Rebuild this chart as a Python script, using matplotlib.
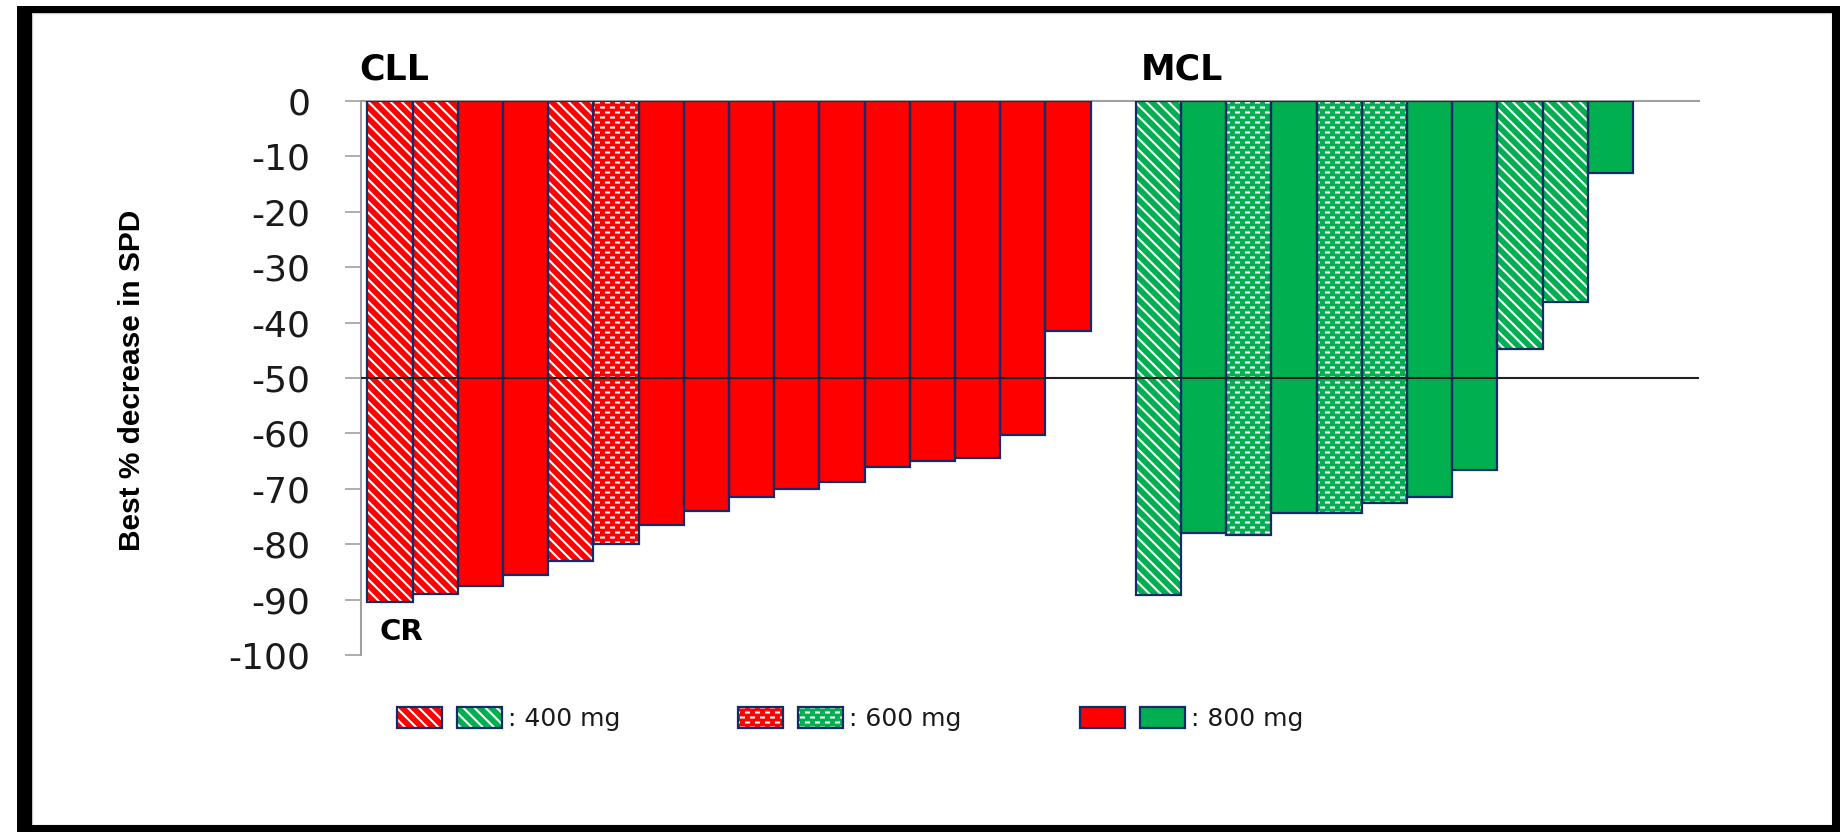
import numpy as np
import matplotlib
matplotlib.use("Agg")
import matplotlib.pyplot as plt
import matplotlib.hatch as mhatch
from matplotlib.path import Path
from matplotlib.patches import Patch, Rectangle
from matplotlib.legend_handler import HandlerTuple

# ---- data -------------------------------------------------------------
group_names = ["CLL", "MCL"]
cll_change = [-90.5, -89, -87.5, -85.5, -83, -80, -76.5, -74, -71.5, -70,
              -68.7, -66, -65, -64.5, -60.3, -41.5]
cll_dose = [400, 400, 800, 800, 400, 600, 800, 800, 800, 800,
            800, 800, 800, 800, 800, 800]
mcl_change = [-89.2, -78, -78.3, -74.4, -74.4, -72.6, -71.4, -66.6,
              -44.8, -36.3, -13]
mcl_dose = [400, 800, 600, 800, 600, 600, 800, 800, 400, 400, 800]

dose_levels = [400, 600, 800]
dose_labels = [": 400 mg", ": 600 mg", ": 800 mg"]
y_ticks = [0, -10, -20, -30, -40, -50, -60, -70, -80, -90, -100]
y_tick_labels = ["0", "-10", "-20", "-30", "-40", "-50", "-60", "-70",
                 "-80", "-90", "-100"]
response_cutoff = -50
cr_label = "CR"
y_label = "Best % decrease in SPD"

# ---- style ------------------------------------------------------------
RED = "#FF0000"
GREEN = "#00B050"
EDGE = "#132C66"
AXIS_GRAY = "#A0A0A0"
TEXT = "#1A1A1A"
W, H = 1844, 832

plt.rcParams["hatch.linewidth"] = 1.5


class BrickDashes(mhatch.HatchPatternBase):
    """Staggered rows of short horizontal dashes, selected with '.'."""
    rows_per_unit = 20
    cols_per_unit = 10
    half_len = 0.015

    def __init__(self, hatch, density):
        n = hatch.count(".")
        self.num_rows = self.rows_per_unit * n
        self.num_cols = self.cols_per_unit * n
        self.num_vertices = self.num_rows * self.num_cols * 2

    def set_vertices_and_codes(self, vertices, codes):
        pts = []
        for i in range(self.num_rows):
            y = (i + 0.5) / self.num_rows
            shift = 0.25 if i % 2 == 0 else 0.75
            for j in range(self.num_cols):
                x = (j + shift) / self.num_cols
                pts.append((x - self.half_len, y))
                pts.append((x + self.half_len, y))
        vertices[:] = pts
        codes[0::2] = Path.MOVETO
        codes[1::2] = Path.LINETO


_types = mhatch._hatch_types
_types[_types.index(mhatch.SmallFilledCircles)] = BrickDashes

dose_hatch = {400: "\\\\\\", 600: ".", 800: None}

# ---- figure -----------------------------------------------------------
fig = plt.figure(figsize=(W / 100, H / 100), dpi=100)
ax = fig.add_axes([361 / W, 1 - 655 / H, (1699 - 361) / W, (655 - 101) / H])

n_cll, n_mcl = len(cll_change), len(mcl_change)
x_cll = np.arange(n_cll)
x_mcl = n_cll + 1 + np.arange(n_mcl)
xs = np.concatenate([x_cll, x_mcl])
values = cll_change + mcl_change
doses = cll_dose + mcl_dose
faces = [RED] * n_cll + [GREEN] * n_mcl

# filled bars carrying white hatching, then dark outlines on top
bars = ax.bar(xs, values, width=1.0, color=faces, edgecolor="white",
              linewidth=0, zorder=2)
for b, d in zip(bars, doses):
    b.set_hatch(dose_hatch[d])
ax.bar(xs, values, width=1.0, fill=False, edgecolor=EDGE, linewidth=1.6,
       zorder=3)

ax.axhline(response_cutoff, color="#222222", linewidth=1.5, zorder=4)

ax.set_xlim(-0.64, 28.96)
ax.set_ylim(-100, 0)
ax.set_xticks([])
ax.set_yticks(y_ticks)
ax.set_yticklabels(y_tick_labels, family="DejaVu Sans")
ax.tick_params(axis="y", length=11.5, width=1.2, color=AXIS_GRAY, pad=25,
               labelsize=26, labelcolor=TEXT)
for side in ("right", "bottom"):
    ax.spines[side].set_visible(False)
for side in ("left", "top"):
    ax.spines[side].set_color(AXIS_GRAY)
    ax.spines[side].set_linewidth(1.5)

# group titles and CR marker
ax.text(x_cll[0] - 0.68, 5.6, group_names[0], ha="left", va="center",
        fontsize=25, fontweight="bold", color="black", clip_on=False)
ax.text(x_mcl[0] - 0.38, 5.6, group_names[1], ha="left", va="center",
        fontsize=25, fontweight="bold", color="black", clip_on=False)
ax.text(x_cll[0] - 0.24, cll_change[0] - 5.4, cr_label, ha="left",
        va="center", fontsize=21, fontweight="bold", color="black")

fig.text(132 / W, 1 - 380 / H, y_label, rotation=90, ha="center",
         va="center", fontsize=21.5, fontweight="bold",
         family=["Liberation Sans", "DejaVu Sans"], color="black")


# ---- legend: red and green swatch pairs per dose ----------------------
def swatch(color, hatch):
    return (Patch(facecolor=color, edgecolor="white", linewidth=0,
                  hatch=hatch),
            Patch(fill=False, edgecolor=EDGE, linewidth=1.6))


handles = [(swatch(RED, dose_hatch[d]), swatch(GREEN, dose_hatch[d]))
           for d in dose_levels]
hmap = {h: HandlerTuple(ndivide=None, pad=0.6) for h in handles}
fig.legend(handles, dose_labels, handler_map=hmap, loc="upper left",
           bbox_to_anchor=(397 / W, 1 - 707 / H),
           bbox_transform=fig.transFigure, ncol=3, frameon=False,
           fontsize=18, handlelength=4.2, handleheight=0.92,
           handletextpad=0.24, columnspacing=4.72, borderpad=0,
           borderaxespad=0, labelcolor=TEXT)


# ---- outer frame ------------------------------------------------------
def frame_rect(x0, y0, x1, y1, **kw):
    fig.add_artist(Rectangle((x0 / W, 1 - y1 / H), (x1 - x0) / W,
                             (y1 - y0) / H, transform=fig.transFigure, **kw))


frame_rect(32, 13, 1832, 825, fill=False, edgecolor="#C8C8C8", linewidth=1)
frame_rect(17, 6, 32, 832, color="black", linewidth=0)
frame_rect(17, 6, 1840, 13, color="black", linewidth=0)
frame_rect(1832, 6, 1840, 832, color="black", linewidth=0)
frame_rect(17, 825, 1840, 832, color="black", linewidth=0)

fig.savefig("out.png", dpi=100)
